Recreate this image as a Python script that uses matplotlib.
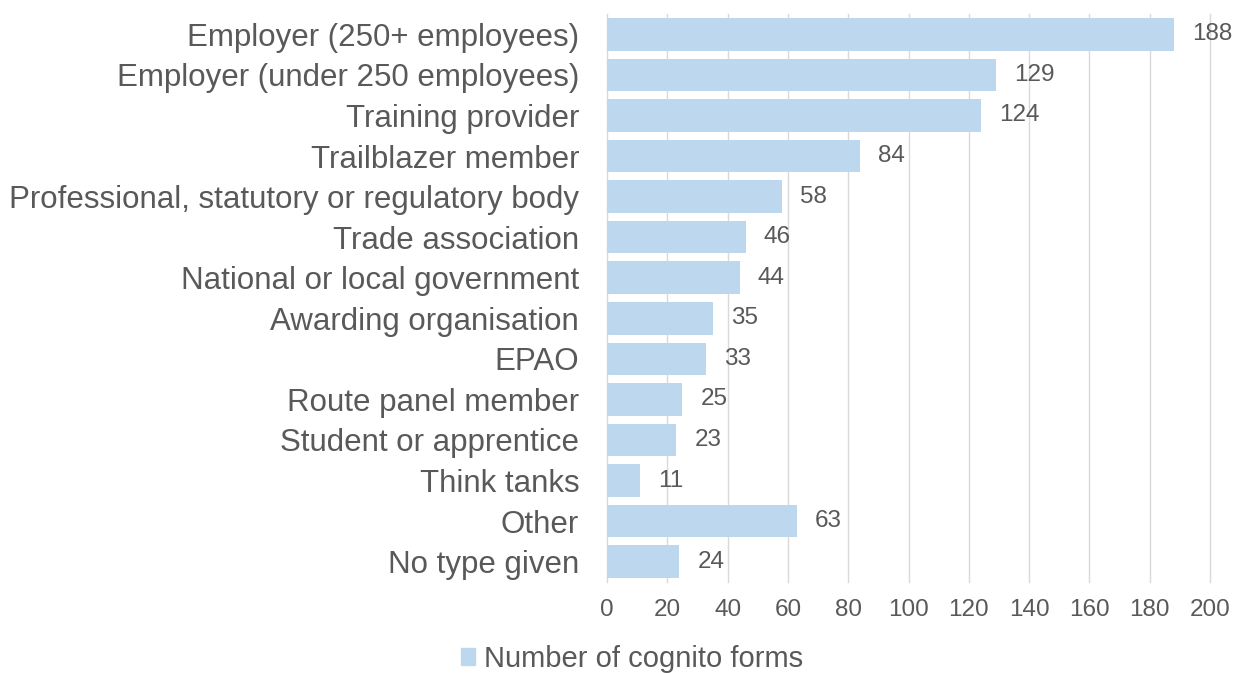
import matplotlib.pyplot as plt
from matplotlib.patches import Patch

# ---------------------- Data ----------------------
categories = [
    'Employer (250+ employees)',
    'Employer (under 250 employees)',
    'Training provider',
    'Trailblazer member',
    'Professional, statutory or regulatory body',
    'Trade association',
    'National or local government',
    'Awarding organisation',
    'EPAO',
    'Route panel member',
    'Student or apprentice',
    'Think tanks',
    'Other',
    'No type given',
]
counts = [188, 129, 124, 84, 58, 46, 44, 35, 33, 25, 23, 11, 63, 24]
x_ticks = [0, 20, 40, 60, 80, 100, 120, 140, 160, 180, 200]

bar_color = '#BDD7EE'
text_color = '#595959'
font = 'Liberation Sans'

fig = plt.figure(figsize=(12.37, 6.73), dpi=100)
ax = fig.add_axes([607 / 1237, 1 - 582 / 673, (1210 - 607) / 1237, (582 - 14) / 673])

y = list(range(len(categories)))
ax.barh(y, counts, height=0.8, color=bar_color, zorder=2)
ax.set_ylim(len(categories) - 0.5, -0.5)
ax.set_xlim(0, 200)

# value labels
for yi, v in zip(y, counts):
    ax.annotate(str(v), (v, yi), xytext=(13, 0), textcoords='offset points',
                va='center', ha='left', fontsize=17.5, color=text_color,
                family=font, zorder=3)

ax.set_yticks(y)
ax.set_yticklabels(categories, fontsize=22.5, color=text_color, family=font)
ax.set_xticks(x_ticks)
ax.set_xticklabels([str(t) for t in x_ticks], fontsize=17.5, color=text_color, family=font)
ax.tick_params(axis='both', length=0)
ax.tick_params(axis='y', pad=20)
ax.tick_params(axis='x', pad=12)

for t in x_ticks:
    ax.axvline(t, color='#D9D9D9', linewidth=1, zorder=0, clip_on=False)
for s in ax.spines.values():
    s.set_visible(False)

fig.legend(handles=[Patch(color=bar_color, label='Number of cognito forms')],
           loc='center', bbox_to_anchor=(632 / 1237, 1 - 659 / 673), frameon=False,
           prop={'family': font, 'size': 21},
           labelcolor=text_color, handlelength=0.5, handleheight=0.5, handletextpad=0.3)

plt.savefig('out.png', dpi=100)
